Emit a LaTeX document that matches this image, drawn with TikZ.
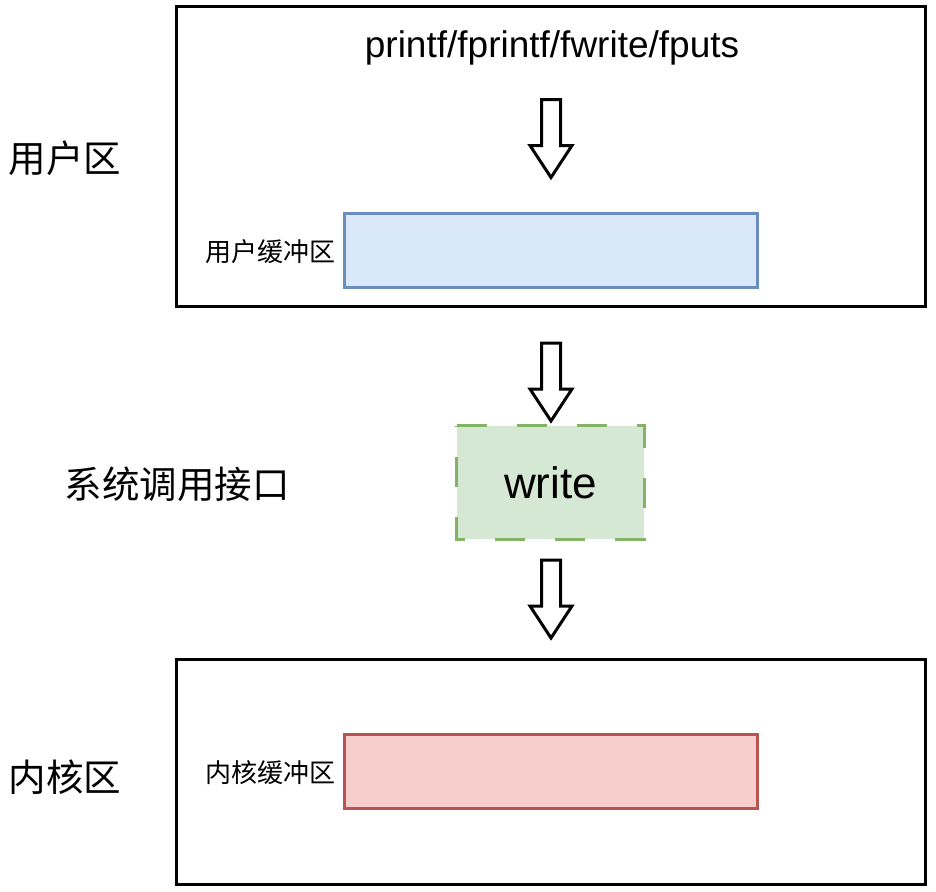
\documentclass[tikz,border=0pt]{standalone}
\usepackage{fontspec}
\setmainfont{Liberation Sans}
\newfontfamily\cjk{Noto Sans CJK SC}
\definecolor{bluefill}{HTML}{DAE8FC}
\definecolor{bluedraw}{HTML}{6C8EBF}
\definecolor{greenfill}{HTML}{D5E8D4}
\definecolor{greendraw}{HTML}{82B366}
\definecolor{redfill}{HTML}{F8CECC}
\definecolor{reddraw}{HTML}{B85450}
\tikzset{
  zone/.style={draw=black, line width=3pt, fill=white, inner sep=0pt},
  buf/.style={line width=3pt, inner sep=0pt, minimum width=413pt, minimum height=74pt},
  bigcn/.style={font=\cjk\fontsize{37.5}{40}\selectfont, inner sep=0pt},
  smallcn/.style={font=\cjk\fontsize{26}{28}\selectfont, inner sep=0pt},
  blockarrow/.style={draw=black, line width=3pt, fill=white, line join=miter},
  pics/downarrow/.style={code={
    \draw[blockarrow] (-9.5,0) -- (9.5,0) -- (9.5,46) -- (21,46) -- (0,78) -- (-21,46) -- (-9.5,46) -- cycle;
  }}
}
\begin{document}
\begin{tikzpicture}[x=1pt,y=-1pt]
\useasboundingbox (0,0) rectangle (936,891);
% outer zones
\draw[zone] (176,6.5) rectangle (925.5,306);
\draw[zone] (176,659) rectangle (925.5,884);
% labels
\node[bigcn] (userlbl) at (65,158) {用户区};
\node[bigcn] (syslbl) at (177,484) {系统调用接口};
\node[bigcn] (kernlbl) at (65,777) {内核区};
% top text
\node[inner sep=0pt, font=\fontsize{37}{40}\selectfont] (funcs) at (552,48) {printf/fprintf/fwrite/fputs};
% buffers
\node[buf, draw=bluedraw, fill=bluefill] (ubuf) at (550.5,250) {};
\node[smallcn] (ubuflbl) at (270,252) {用户缓冲区};
\node[buf, draw=reddraw, fill=redfill] (kbuf) at (550.5,771) {};
\node[smallcn] (kbuflbl) at (270,773) {内核缓冲区};
% write box
\node[fill=greenfill, minimum width=187pt, minimum height=113pt, inner sep=0pt, font=\fontsize{44}{48}\selectfont] (write) at (550.5,482.5) {write};
\draw[draw=greendraw, line width=3pt, dash pattern=on 30pt off 30pt]
  (write.north west) -- (write.north east) -- (write.south east) -- (write.south west) -- cycle;
% arrows
\pic at (551,99.5) {downarrow};
\pic at (551,343) {downarrow};
\pic at (551,560) {downarrow};
\end{tikzpicture}
\end{document}
